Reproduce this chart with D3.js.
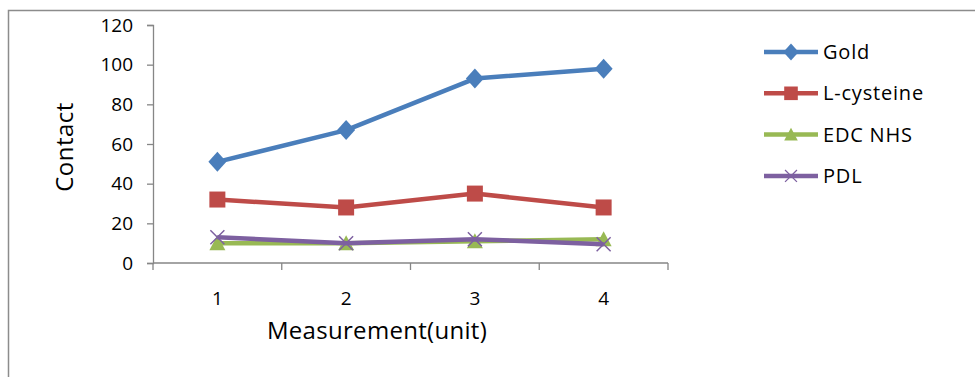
<!DOCTYPE html>
<html>
<head>
<meta charset="utf-8">
<script src="https://cdn.jsdelivr.net/npm/d3@7"></script>
<style>
  body { margin: 0; background: #fff; }
  text { font-family: "Open Sans", sans-serif; fill: #000; }
</style>
</head>
<body>
<div id="grafico"></div>
<script>
const WIDTH = 975;
const HEIGHT = 377;

// data
const measurements = ["1", "2", "3", "4"];
const yTicks = [0, 20, 40, 60, 80, 100, 120];
const gold = [51, 67, 93, 98];
const lCysteine = [32, 28, 35, 28];
const edcNhs = [10, 10, 11, 12];
const pdl = [13, 10, 12, 9.5];

const seriesNames = ["Gold", "L-cysteine", "EDC NHS", "PDL"];
const seriesColors = ["#4a7ebb", "#be4b48", "#98b954", "#7d60a0"];
const seriesMarkers = ["diamond", "square", "triangle", "cross"];

let series = [gold, lCysteine, edcNhs, pdl].map((values, i) => ({
    name: seriesNames[i],
    color: seriesColors[i],
    marker: seriesMarkers[i],
    values: values
}));

let svg = d3.select("#grafico")
    .append("svg")
    .attr("width", WIDTH)
    .attr("height", HEIGHT);

// chart frame
svg.append("rect")
    .attr("x", 8.5)
    .attr("y", 10.5)
    .attr("width", 1000)
    .attr("height", 400)
    .style("fill", "none")
    .style("stroke", "#8c8c8c")
    .style("stroke-width", 1.5);

const plotLeft = 153, plotRight = 668, plotTop = 25, plotBottom = 263;

let x = d3.scaleBand()
    .domain(measurements)
    .range([plotLeft, plotRight]);

let y = d3.scaleLinear()
    .domain([0, 120])
    .range([plotBottom, plotTop]);

// y axis
let yAxis = svg.append("g")
    .attr("transform", "translate(" + plotLeft + ",0)")
    .call(d3.axisLeft(y).tickValues(yTicks).tickSize(6).tickPadding(14));
yAxis.select(".domain").style("stroke", "#868686").style("stroke-width", 1.3);
yAxis.selectAll(".tick line").style("stroke", "#868686").style("stroke-width", 1.3);
yAxis.selectAll(".tick text")
    .style("font-size", "19px")
    .style("font-family", "Open Sans, sans-serif")
    .style("fill", "#000");

// x axis: ticks sit between categories
let xAxis = svg.append("g")
    .attr("transform", "translate(0," + plotBottom + ")");
xAxis.append("line")
    .attr("x1", plotLeft).attr("x2", plotRight)
    .style("stroke", "#868686").style("stroke-width", 1.3);
let boundaries = measurements.map(m => x(m)).concat([plotRight]);
xAxis.selectAll(".xtick")
    .data(boundaries)
    .enter()
    .append("line")
    .attr("class", "xtick")
    .attr("x1", d => d).attr("x2", d => d)
    .attr("y1", 0).attr("y2", 7)
    .style("stroke", "#868686").style("stroke-width", 1.3);
xAxis.selectAll(".xlabel")
    .data(measurements)
    .enter()
    .append("text")
    .attr("class", "xlabel")
    .attr("x", d => x(d) + x.bandwidth() / 2)
    .attr("y", 42)
    .attr("text-anchor", "middle")
    .style("font-size", "19px")
    .text(d => d);

// axis titles
svg.append("text")
    .attr("x", 377)
    .attr("y", 339)
    .attr("text-anchor", "middle")
    .style("font-size", "24px")
    .style("letter-spacing", "0.3px")
    .text("Measurement(unit)");

svg.append("text")
    .attr("transform", "translate(73,147) rotate(-90)")
    .attr("text-anchor", "middle")
    .style("font-size", "24px")
    .style("letter-spacing", "0.5px")
    .text("Contact");

function markerPath(type) {
    switch (type) {
        case "diamond": return "M0,-10L9,0L0,10L-9,0Z";
        case "square": return "M-8,-8H8V8H-8Z";
        case "triangle": return "M0,-8L8,7H-8Z";
        case "cross": return "M-7,-7L7,7M-7,7L7,-7";
    }
}

function drawMarker(sel, s) {
    sel.append("path")
        .attr("d", markerPath(s.marker))
        .style("fill", s.marker === "cross" ? "none" : s.color)
        .style("stroke", s.color)
        .style("stroke-width", s.marker === "cross" ? 1.5 : 0);
}

let line = d3.line()
    .x((d, i) => x(measurements[i]) + x.bandwidth() / 2)
    .y(d => y(d));

series.forEach((s) => {
    let g = svg.append("g").attr("class", "series");
    g.append("path")
        .attr("d", line(s.values))
        .style("fill", "none")
        .style("stroke", s.color)
        .style("stroke-width", 4.5)
        .style("stroke-linejoin", "round");
    g.selectAll(".pt")
        .data(s.values)
        .enter()
        .append("g")
        .attr("class", "pt")
        .attr("transform", (d, i) => "translate(" + (x(measurements[i]) + x.bandwidth() / 2) + "," + y(d) + ")")
        .each(function () { drawMarker(d3.select(this), s); });
});

// legend
let legend = svg.append("g");
series.forEach((s, i) => {
    let ly = 52 + i * 41.3;
    let item = legend.append("g");
    item.append("line")
        .attr("x1", 764).attr("x2", 818)
        .attr("y1", ly).attr("y2", ly)
        .style("stroke", s.color)
        .style("stroke-width", 4.5);
    let m = item.append("g").attr("transform", "translate(791," + ly + ") scale(0.85)");
    drawMarker(m, s);
    item.append("text")
        .attr("x", 823)
        .attr("y", ly + 7)
        .style("font-size", "20px")
        .style("letter-spacing", "0.8px")
        .text(s.name);
});
</script>
</body>
</html>
